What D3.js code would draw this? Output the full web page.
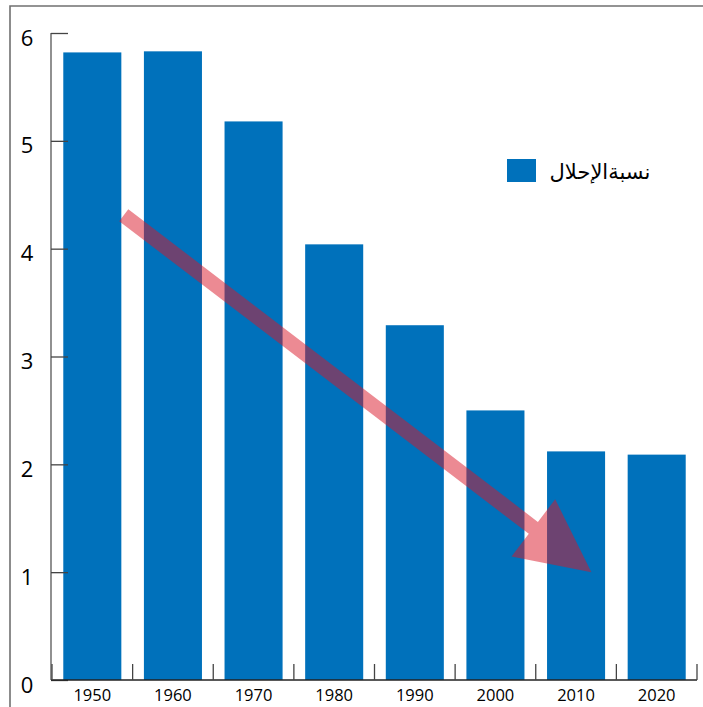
<!DOCTYPE html>
<html><head><meta charset="utf-8">
<script src="https://cdn.jsdelivr.net/npm/d3@7"></script>
<style>body{margin:0;background:#fff}svg{display:block}</style>
</head><body>
<script>
const years = ["1950","1960","1970","1980","1990","2000","2010","2020"];
const replacementRatio = [5.82, 5.83, 5.18, 4.04, 3.29, 2.50, 2.12, 2.09];
const yTicks = [0,1,2,3,4,5,6];
const legendLabel = "نسبةالإحلال";
const arrowFrom = [1953.9, 4.31];
const arrowTo = [2011.9, 1.0];

const W = 703, H = 707;
const svg = d3.select("body").append("svg").attr("width", W).attr("height", H);

// frame
svg.append("path").attr("d", `M10,${H+2}V6H${W+2}`).attr("fill","none")
  .attr("stroke","#707070").attr("stroke-width",1.6);

const x0 = 52, x1 = 697, yTop = 33, yBot = 680;
const x = d3.scaleBand().domain(years).range([x0, x1]).paddingInner(0.28).paddingOuter(0.14);
const y = d3.scaleLinear().domain([0, 6]).range([yBot, yTop]);
const xYear = d3.scaleLinear().domain([1950, 2020])
  .range([x("1950") + x.bandwidth()/2, x("2020") + x.bandwidth()/2]);

// bars
svg.append("g").selectAll("rect").data(years).join("rect")
  .attr("x", d => x(d)).attr("width", x.bandwidth())
  .attr("y", (d,i) => y(replacementRatio[i]))
  .attr("height", (d,i) => y(0) - y(replacementRatio[i]))
  .attr("fill", "#0071bb");

// y axis
const ya = svg.append("g").attr("transform", `translate(${x0-1},0)`)
  .call(d3.axisRight(y).tickValues(yTicks).tickSize(17).tickFormat(""));
ya.select(".domain").attr("d", `M0,${yTop}V${yBot}`).attr("stroke","#555").attr("stroke-width",1.3);
ya.selectAll(".tick line").attr("stroke","#444").attr("stroke-width",1.3);
svg.append("g").selectAll("text").data(yTicks).join("text")
  .attr("x", 27).attr("y", d => y(d) + 3.5).attr("text-anchor","middle")
  .attr("dominant-baseline","central")
  .attr("font-family","Open Sans, sans-serif").attr("font-size",22).attr("fill","#000")
  .text(d => d);

// x axis
const xa = svg.append("g");
xa.append("line").attr("x1", x0-1).attr("x2", x1).attr("y1", yBot).attr("y2", yBot)
  .attr("stroke","#222").attr("stroke-width",1.5);
const bounds = years.map(d => x(d) - x.step()*x.paddingInner()/2).concat([x1]);
xa.selectAll(".bt").data(bounds).join("line").attr("class","bt")
  .attr("x1", d => d).attr("x2", d => d).attr("y1", yBot).attr("y2", yBot - 16)
  .attr("stroke","#444").attr("stroke-width",1.3);
xa.selectAll("text").data(years).join("text")
  .attr("x", d => x(d) + x.bandwidth()/2).attr("y", 694)
  .attr("text-anchor","middle").attr("dominant-baseline","central")
  .attr("font-family","Open Sans, sans-serif").attr("font-size",16.5).attr("fill","#000")
  .text(d => d);

// legend
svg.append("rect").attr("x",507).attr("y",159).attr("width",29).attr("height",23).attr("fill","#0071bb");
svg.append("text").attr("x",600).attr("y",172).attr("text-anchor","middle")
  .attr("dominant-baseline","central").attr("font-family","DejaVu Sans, sans-serif")
  .attr("font-size",21).attr("fill","#000").attr("direction","rtl").text(legendLabel);

// arrow
const p0 = [xYear(arrowFrom[0]), y(arrowFrom[1])];
const p1 = [xYear(arrowTo[0]), y(arrowTo[1])];
const dx = p1[0]-p0[0], dy = p1[1]-p0[1], L = Math.hypot(dx,dy);
const u = [dx/L, dy/L], n = [-u[1], u[0]];
const hl = 73, hw = 36, sw = 7.5;
const b = [p1[0]-hl*u[0], p1[1]-hl*u[1]];
const pt = (c, k) => [c[0]+k*n[0], c[1]+k*n[1]];
const poly = [pt(p0,-sw), pt(b,-sw), pt(b,-hw), p1, pt(b,hw), pt(b,sw), pt(p0,sw)];
svg.append("path").attr("d", d3.line()(poly) + "Z")
  .attr("fill","rgb(218,22,40)").attr("fill-opacity",0.5);
</script>
</body></html>
